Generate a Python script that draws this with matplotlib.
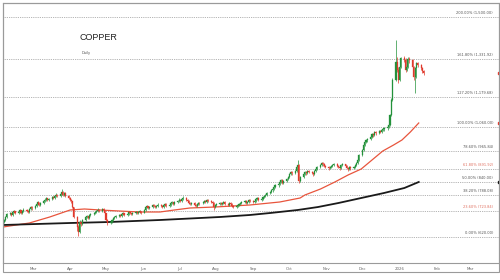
import matplotlib
matplotlib.use("Agg")
import matplotlib.pyplot as plt
import matplotlib.dates as mdates
from matplotlib.patches import Rectangle
import pandas as pd
import numpy as np

# ---------------- data ----------------
first_open = 680
closes = [
    688, 700, 712,
    716, 708, 720, 724, 718,
    722, 728, 716, 724, 730,
    726, 720, 732, 740, 736,
    744, 752, 760, 748, 756,
    764, 770, 776, 768, 772,
    780, 776, 784, 790, 786,
    794, 800, 790, 796, 784,
    776, 770, 764, 740, 700,
    660, 640, 680, 672, 690,
    700, 704, 696, 708, 712,
    716, 720, 724, 730, 726,
    734, 728, 716, 690, 676,
    680, 688, 696, 700, 704,
    708, 704, 712, 716, 710,
    714, 720, 716, 712, 718,
    722, 716, 720, 724, 718,
    730, 740, 744, 736, 742,
    748, 744, 740, 746, 750,
    744, 740, 748, 752, 746,
    750, 756, 760, 754, 762,
    766, 770, 764, 772, 776,
    770, 764, 758, 752, 756,
    750, 746, 752, 758, 756,
    760, 766, 762, 768, 764,
    760, 756, 740, 748, 752,
    756, 752, 758, 760, 754,
    750, 756, 752, 746, 740,
    744, 748, 752, 756, 760,
    764, 758, 762, 768, 764,
    760, 766, 772, 776, 770,
    774, 780, 784, 790, 796,
    800, 808, 812, 820, 828,
    832, 840, 848, 836, 844,
    852, 860, 872, 880, 876,
    884, 900, 908, 844, 860,
    872, 880, 876, 884, 880,
    876, 872, 884, 892, 900,
    908, 916, 912, 904, 900,
    896, 900, 904, 908, 912,
    904, 900, 896, 908, 912,
    904, 896, 892, 900, 896,
    900, 908, 916, 930, 948,
    970, 990, 1000, 1008, 1012,
    1020, 1032, 1028, 1040, 1036,
    1044, 1040, 1048, 1052, 1056,
    1062, 1070, 1110, 1170, 1250,
    1320, 1290, 1250, 1300, 1336,
    1330, 1290, 1300, 1332, 1328,
    1300, 1260, 1296, 1316, 1308,
    1296, 1284, 1276,
]
highs = [
    694, 704, 716,
    722, 718, 724, 730, 726,
    726, 732, 730, 728, 736,
    734, 730, 736, 744, 744,
    748, 756, 766, 762, 760,
    768, 776, 782, 778, 776,
    786, 784, 788, 796, 794,
    800, 812, 804, 802, 800,
    788, 780, 774, 766, 742,
    704, 668, 688, 684, 694,
    704, 710, 706, 712, 716,
    720, 726, 728, 736, 734,
    738, 736, 730, 718, 694,
    686, 692, 700, 706, 708,
    712, 712, 716, 720, 718,
    718, 724, 722, 718, 722,
    726, 724, 724, 728, 726,
    734, 744, 750, 746, 746,
    752, 752, 748, 750, 756,
    754, 748, 752, 758, 756,
    754, 760, 766, 762, 766,
    770, 776, 774, 778, 784,
    780, 774, 768, 762, 760,
    760, 754, 756, 762, 762,
    764, 770, 770, 772, 772,
    768, 764, 760, 752, 756,
    760, 760, 762, 766, 764,
    758, 760, 760, 756, 750,
    748, 752, 756, 760, 764,
    768, 768, 766, 772, 772,
    768, 770, 776, 782, 780,
    778, 784, 790, 794, 800,
    806, 812, 818, 824, 832,
    836, 846, 854, 852, 848,
    856, 866, 876, 886, 884,
    890, 904, 928, 912, 866,
    876, 886, 884, 890, 888,
    884, 880, 888, 896, 904,
    912, 922, 920, 916, 908,
    904, 904, 908, 914, 916,
    916, 908, 904, 912, 918,
    914, 908, 900, 904, 904,
    904, 912, 920, 934, 952,
    974, 996, 1006, 1014, 1018,
    1026, 1038, 1036, 1046, 1044,
    1050, 1048, 1052, 1058, 1060,
    1066, 1076, 1114, 1176, 1256,
    1408, 1340, 1300, 1310, 1342,
    1344, 1336, 1310, 1340, 1340,
    1332, 1304, 1300, 1322, 1320,
    1312, 1302, 1290,
]
lows = [
    676, 684, 698,
    708, 704, 706, 716, 714,
    714, 718, 712, 712, 720,
    722, 716, 718, 728, 730,
    732, 740, 748, 744, 744,
    752, 760, 766, 764, 764,
    768, 772, 772, 780, 780,
    782, 790, 786, 786, 780,
    772, 764, 758, 736, 696,
    644, 624, 636, 664, 668,
    686, 696, 692, 694, 704,
    708, 712, 716, 720, 722,
    722, 724, 712, 686, 668,
    672, 678, 684, 692, 696,
    700, 700, 700, 708, 706,
    706, 710, 712, 708, 708,
    714, 712, 712, 716, 714,
    716, 726, 736, 732, 732,
    738, 740, 736, 736, 742,
    740, 736, 736, 744, 742,
    742, 746, 752, 750, 750,
    758, 762, 760, 760, 768,
    766, 760, 754, 748, 748,
    746, 742, 742, 748, 750,
    752, 756, 758, 758, 760,
    756, 752, 728, 736, 744,
    748, 748, 748, 754, 750,
    746, 746, 748, 742, 736,
    736, 740, 744, 748, 752,
    756, 754, 754, 758, 760,
    756, 756, 762, 768, 766,
    766, 770, 776, 780, 786,
    792, 796, 802, 808, 816,
    822, 828, 836, 832, 832,
    840, 848, 856, 868, 870,
    872, 880, 896, 836, 840,
    856, 868, 870, 874, 876,
    872, 866, 870, 880, 888,
    896, 904, 906, 900, 896,
    890, 892, 896, 900, 904,
    900, 896, 890, 892, 904,
    900, 892, 886, 888, 890,
    892, 896, 904, 912, 926,
    944, 966, 986, 996, 1002,
    1008, 1016, 1022, 1024, 1030,
    1032, 1036, 1036, 1044, 1046,
    1050, 1058, 1066, 1106, 1166,
    1244, 1280, 1236, 1244, 1296,
    1320, 1282, 1284, 1296, 1316,
    1292, 1250, 1196, 1256, 1300,
    1290, 1278, 1270,
]

ma_fast_dates = ["2025-02-04", "2025-02-26", "2025-03-15", "2025-04-01", "2025-04-13",
                 "2025-04-26", "2025-05-12", "2025-05-29", "2025-06-15", "2025-06-27",
                 "2025-07-10", "2025-07-31", "2025-08-29", "2025-09-23", "2025-10-10",
                 "2025-10-14", "2025-10-27", "2025-11-08", "2025-11-19", "2025-11-30",
                 "2025-12-09", "2025-12-18", "2025-12-27", "2026-01-03", "2026-01-10",
                 "2026-01-17"]
ma_fast = [660, 676, 700, 728, 732, 728, 724, 720, 720, 728, 736, 740, 748, 760, 776,
           788, 812, 840, 868, 892, 928, 964, 988, 1008, 1040, 1076]

ma_slow_dates = ["2025-02-04", "2025-04-01", "2025-05-04", "2025-06-15", "2025-08-04",
                 "2025-08-29", "2025-09-15", "2025-10-08", "2025-10-25", "2025-11-11",
                 "2025-11-30", "2025-12-19", "2026-01-05", "2026-01-17"]
ma_slow = [668, 676, 680, 688, 700, 708, 716, 728, 740, 756, 776, 796, 816, 840]

fib_pcts = [0.0, 23.6, 38.2, 50.0, 61.8, 78.6, 100.0, 127.2, 161.8, 200.0]
fib_prices = [620.00, 723.84, 788.08, 840.00, 891.92, 965.84, 1060.00, 1179.68,
              1331.92, 1500.00]
fib_red = [23.6, 61.8]

month_ticks = ["2025-03-01", "2025-04-01", "2025-05-01", "2025-06-01", "2025-07-01",
               "2025-08-01", "2025-09-01", "2025-10-01", "2025-11-01", "2025-12-01",
               "2026-01-01", "2026-02-01", "2026-03-01"]
month_labels = ["Mar", "Apr", "May", "Jun", "Jul", "Aug", "Sep", "Oct", "Nov", "Dec",
                "2026", "Feb", "Mar"]

title = "COPPER"
subtitle = "Daily"

# ---------------- figure ----------------
W, H = 500, 280
fig = plt.figure(figsize=(5.0, 2.8), dpi=100)
fig.patch.set_facecolor("white")
ax = fig.add_axes([3 / W, 1 - 263 / H, 496 / W, 260 / H])

dates = pd.bdate_range("2025-02-05", periods=len(closes))
x = mdates.date2num(dates.to_pydatetime())
c = np.array(closes, float)
o = np.concatenate([[first_open], c[:-1]])
h = np.array(highs, float)
l = np.array(lows, float)

green = "#23913a"
red = "#e0392c"
cols = np.where(c >= o, green, red)

ax.vlines(x, l, h, colors=cols, linewidth=0.5, zorder=3)
body_b = np.minimum(o, c)
body_h = np.maximum(np.abs(c - o), 1.5)
ax.bar(x, body_h, bottom=body_b, width=0.9, color=cols, edgecolor=cols,
       linewidth=0.2, zorder=4)

fx = mdates.date2num(pd.to_datetime(ma_fast_dates).to_pydatetime())
sx = mdates.date2num(pd.to_datetime(ma_slow_dates).to_pydatetime())
ax.plot(fx, ma_fast, color="#e8553d", lw=0.9, zorder=2, solid_joinstyle="round")
ax.plot(sx, ma_slow, color="#1a1a1a", lw=1.3, zorder=2, solid_joinstyle="round")

xmin = mdates.date2num(pd.Timestamp("2025-02-04"))
xmax = mdates.date2num(pd.Timestamp("2026-03-25"))
ax.set_xlim(xmin, xmax)
ax.set_ylim(516, 1556)

# fib levels
for pct, price in zip(fib_pcts, fib_prices):
    ax.axhline(price, color="#9a9a9a", lw=0.6, ls=(0, (1, 1.2)), zorder=1)
    col = "#e07060" if pct in fib_red else "#555555"
    ax.text(0.988, price + 8, f"{pct:.2f}% ({price:,.2f})", transform=ax.get_yaxis_transform(),
            ha="right", va="bottom", fontsize=2.6, color=col, family="DejaVu Sans")

# right edge price tags
ax.plot([xmax], [closes[-1]], marker="s", ms=2, color=red, clip_on=False, zorder=6)
ax.plot([xmax], [ma_fast[-1]], marker="s", ms=2, color=red, clip_on=False, zorder=6)
ax.plot([xmax], [ma_slow[-1]], marker="s", ms=2, color="#111111", clip_on=False, zorder=6)

# ticks
tx = mdates.date2num(pd.to_datetime(month_ticks).to_pydatetime())
ax.set_xticks(tx)
ax.set_xticklabels(month_labels, fontsize=2.8, color="#666666")
ax.tick_params(axis="x", length=0, pad=3)
ax.set_yticks([])

for s in ax.spines.values():
    s.set_color("#9a9a9a")
    s.set_linewidth(0.8)

# title
fig.text(79 / W, 1 - 38 / H, title, fontsize=6.5, color="#222222",
         family="Liberation Sans", ha="left", va="center")
fig.text(82 / W, 1 - 53 / H, subtitle, fontsize=2.6, color="#555555",
         family="DejaVu Sans", ha="left", va="center")

# outer frame around x-label band
fig.add_artist(Rectangle((3 / W, 1 - 272 / H), 496 / W, 269 / H, transform=fig.transFigure,
                         fill=False, edgecolor="#9a9a9a", lw=0.8))

fig.savefig("out.png", dpi=100, facecolor="white")
